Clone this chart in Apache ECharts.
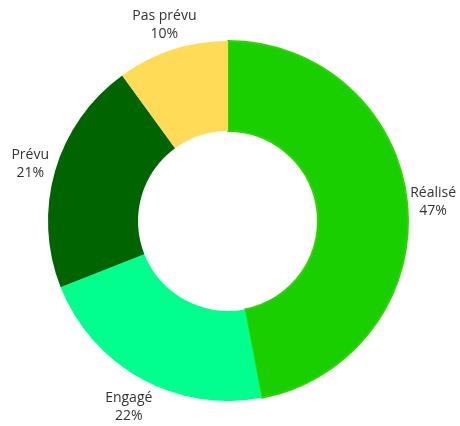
<!DOCTYPE html>
<html>
<head>
<meta charset="utf-8">
<script src="https://cdn.jsdelivr.net/npm/echarts@6/dist/echarts.min.js"></script>
<style>
  html, body { margin: 0; padding: 0; background: #fff; }
  #chart { width: 460px; height: 426px; }
</style>
</head>
<body>
<div id="chart"></div>
<script>
const categories = ['Réalisé', 'Engagé', 'Prévu', 'Pas prévu'];
const values = [47, 22, 21, 10];
const colors = ['#19cf00', '#00ff8c', '#006400', '#ffdb58'];

const myChart = echarts.init(document.getElementById('chart'));

const option = {
  animation: false,
  series: [
    {
      type: 'pie',
      center: [228, 221],
      radius: [90, 180],
      startAngle: 90,
      clockwise: true,
      avoidLabelOverlap: false,
      label: {
        show: true,
        position: 'outside',
        formatter: '{b}\n{d}%',
        fontFamily: 'Open Sans',
        fontSize: 14,
        lineHeight: 18,
        color: '#333',
        distanceToLabelLine: 0
      },
      labelLine: {
        show: false,
        length: 26,
        length2: 0
      },
      // labels centred on their anchor point, like the reference
      labelLayout: function (params) {
        const below = params.dataIndex === 1;
        return { align: 'center', verticalAlign: 'middle', dy: below ? 5 : 0 };
      },
      data: categories.map((name, i) => ({
        name: name,
        value: values[i],
        itemStyle: i === 0
          ? { color: colors[i], borderColor: '#2fd400', borderWidth: 2 }
          : { color: colors[i] }
      }))
    }
  ]
};

myChart.setOption(option);
</script>
</body>
</html>
